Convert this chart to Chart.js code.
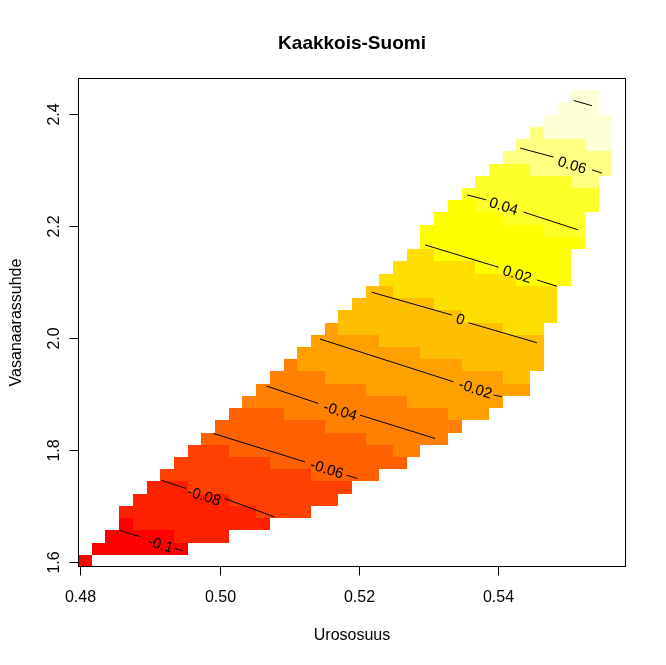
<!DOCTYPE html>
<html>
<head>
<meta charset="utf-8">
<script src="https://cdn.jsdelivr.net/npm/chart.js@4.4.1/dist/chart.umd.min.js"></script>
<style>
  html, body { margin: 0; padding: 0; background: #ffffff; }
  canvas { display: block; }
</style>
</head>
<body>
<canvas id="chart" width="666" height="665"></canvas>
<script>
// grid centres of the image (Urososuus x Vasanaarassuhde)
const xCenters = [
  0.48064, 0.48261, 0.48458, 0.48654, 0.48851, 0.49047, 0.49244, 0.49441, 0.49637, 0.49834,
  0.50030, 0.50227, 0.50424, 0.50620, 0.50817, 0.51013, 0.51210, 0.51407, 0.51603, 0.51800,
  0.51996, 0.52193, 0.52390, 0.52586, 0.52783, 0.52979, 0.53176, 0.53373, 0.53569, 0.53766,
  0.53962, 0.54159, 0.54356, 0.54552, 0.54749, 0.54945, 0.55142, 0.55339, 0.55535, 0.55732
];
const yCenters = [
  1.60198, 1.62381, 1.64564, 1.66747, 1.68931, 1.71114, 1.73297, 1.75481, 1.77664, 1.79847,
  1.82031, 1.84214, 1.86397, 1.88580, 1.90764, 1.92947, 1.95130, 1.97314, 1.99497, 2.01680,
  2.03863, 2.06047, 2.08230, 2.10413, 2.12597, 2.14780, 2.16963, 2.19146, 2.21330, 2.23513,
  2.25696, 2.27880, 2.30063, 2.32246, 2.34430, 2.36613, 2.38796, 2.40979, 2.43163, 2.45346
];

// heat.colors(12)
const heatColors = [
  "#FF0000", "#FF2000", "#FF4000", "#FF6000", "#FF8000", "#FF9F00",
  "#FFBF00", "#FFDF00", "#FFFF00", "#FFFF2A", "#FFFF80", "#FFFFD5"
];

// first filled column of each row (row 0 = bottom)
const rowStart = [
  0, 1, 2, 3, 3, 4, 5, 6, 7, 8,
  9, 10, 11, 12, 13, 14, 15, 16, 17, 18,
  19, 20, 21, 22, 23, 24, 25, 25, 26, 27,
  28, 29, 30, 31, 32, 33, 34, 35, 36, 0
];

// colour level runs along each row: [level, number of cells]
const rowRuns = [
  [[0, 1]],
  [[0, 7]],
  [[0, 5], [1, 4]],
  [[0, 1], [1, 10]],
  [[1, 10], [2, 4]],
  [[1, 7], [2, 8]],
  [[1, 3], [2, 12]],
  [[2, 11], [3, 5]],
  [[2, 7], [3, 10]],
  [[2, 3], [3, 12], [4, 2]],
  [[3, 12], [4, 6]],
  [[3, 8], [4, 10]],
  [[3, 4], [4, 12], [5, 3]],
  [[4, 12], [5, 7]],
  [[4, 8], [5, 12]],
  [[4, 4], [5, 13], [6, 2]],
  [[4, 1], [5, 12], [6, 6]],
  [[5, 9], [6, 9]],
  [[5, 5], [6, 12]],
  [[5, 1], [6, 12], [7, 3]],
  [[6, 9], [7, 7]],
  [[6, 6], [7, 9]],
  [[6, 2], [7, 12]],
  [[7, 10], [8, 4]],
  [[7, 6], [8, 7]],
  [[7, 2], [8, 10]],
  [[8, 12]],
  [[8, 9], [9, 3]],
  [[8, 5], [9, 6]],
  [[8, 2], [9, 9]],
  [[9, 10]],
  [[9, 7], [10, 2]],
  [[9, 3], [10, 6]],
  [[10, 8]],
  [[10, 5], [11, 2]],
  [[10, 1], [11, 5]],
  [[11, 5]],
  [[11, 3]],
  [[11, 2]],
  []
];

const xTicks = [0.48, 0.50, 0.52, 0.54];
const yTicks = [1.6, 1.8, 2.0, 2.2, 2.4];
const xTickLabels = ["0.48", "0.50", "0.52", "0.54"];
const yTickLabels = ["1.6", "1.8", "2.0", "2.2", "2.4"];

// contour lines: pieces on either side of the label
const contourLevels = ["-0.1", "-0.08", "-0.06", "-0.04", "-0.02", "0", "0.02", "0.04", "0.06", "0.08"];
const contourPaths = [
  [[[0.48555, 1.65668], [0.48863, 1.64470]], [[0.49348, 1.62450], [0.49470, 1.62003]]],
  [[[0.49159, 1.74609], [0.49518, 1.73125]], [[0.50069, 1.71337], [0.50788, 1.68047]]],
  [[[0.49906, 1.82959], [0.51223, 1.77881]], [[0.51822, 1.75503], [0.51975, 1.74913]]],
  [[[0.50673, 1.91417], [0.51414, 1.88324]], [[0.52013, 1.86232], [0.53091, 1.82065]]],
  [[[0.51439, 1.99821], [0.53354, 1.92186]], [[0.53929, 1.89808], [0.54049, 1.89504]]],
  [[[0.52182, 2.08172], [0.53331, 2.04113]], [[0.53569, 2.02736], [0.54552, 1.99160]]],
  [[[0.52947, 2.16629], [0.54001, 2.12642]], [[0.54552, 2.10371], [0.54840, 2.09245]]],
  [[[0.53547, 2.25570], [0.53824, 2.24676]], [[0.54360, 2.22495], [0.55146, 2.19312]]],
  [[[0.54312, 2.33921], [0.54791, 2.32311]], [[0.55342, 2.30041], [0.55486, 2.29450]]],
  [[[0.55078, 2.42432], [0.55342, 2.41484]]]
];
const labelPoints = [
  [0.49147, 1.62986], [0.49772, 1.71659], [0.51535, 1.76486], [0.51726, 1.86822],
  [0.53666, 1.90791], [0.53450, 2.03219], [0.54265, 2.11265], [0.54072, 2.23424],
  [0.55055, 2.30756], null
];

const titleText = "Kaakkois-Suomi";
const xTitle = "Urososuus";
const yTitle = "Vasanaarassuhde";

function cellEdges(centers) {
  const edges = [centers[0] - (centers[1] - centers[0]) / 2];
  for (let i = 1; i < centers.length; i++) edges.push((centers[i - 1] + centers[i]) / 2);
  const n = centers.length;
  edges.push(centers[n - 1] + (centers[n - 1] - centers[n - 2]) / 2);
  return edges;
}

const xEdges = cellEdges(xCenters);
const yEdges = cellEdges(yCenters);
const FONT = '"Liberation Sans", Arial, Helvetica, sans-serif';

const heatmapPlugin = {
  id: "heatmap",
  beforeDatasetsDraw(chart) {
    const { ctx, chartArea, scales: { x, y } } = chart;
    ctx.save();
    ctx.beginPath();
    ctx.rect(chartArea.left, chartArea.top, chartArea.right - chartArea.left, chartArea.bottom - chartArea.top);
    ctx.clip();
    rowRuns.forEach((runs, r) => {
      let c = rowStart[r];
      const top = Math.round(y.getPixelForValue(yEdges[r + 1]));
      const bottom = Math.round(y.getPixelForValue(yEdges[r]));
      runs.forEach(([level, count]) => {
        for (let i = 0; i < count; i++, c++) {
          const left = Math.round(x.getPixelForValue(xEdges[c]));
          const right = Math.round(x.getPixelForValue(xEdges[c + 1]));
          ctx.fillStyle = heatColors[level];
          ctx.fillRect(left, top, right - left, bottom - top);
        }
      });
    });
    ctx.restore();
  }
};

const framePlugin = {
  id: "frame",
  afterDatasetsDraw(chart) {
    const { ctx, scales: { x, y } } = chart;
    // contour labels
    ctx.save();
    ctx.fillStyle = "#000000";
    ctx.font = "15px " + FONT;
    ctx.textAlign = "center";
    ctx.textBaseline = "middle";
    labelPoints.forEach((pt, i) => {
      if (!pt) return;
      const path = contourPaths[i];
      const first = path[0][0];
      const lastSeg = path[path.length - 1];
      const last = lastSeg[lastSeg.length - 1];
      const angle = Math.atan2(
        y.getPixelForValue(last[1]) - y.getPixelForValue(first[1]),
        x.getPixelForValue(last[0]) - x.getPixelForValue(first[0])
      );
      ctx.save();
      ctx.translate(x.getPixelForValue(pt[0]), y.getPixelForValue(pt[1]));
      ctx.rotate(angle);
      ctx.fillText(contourLevels[i], 0, 0);
      ctx.restore();
    });
    ctx.restore();
  },
  afterDraw(chart) {
    const { ctx, chartArea, scales: { x, y } } = chart;
    const left = Math.round(chartArea.left) + 0.5;
    const right = Math.round(chartArea.right) - 0.5;
    const top = Math.round(chartArea.top) + 0.5;
    const bottom = Math.round(chartArea.bottom) - 0.5;
    ctx.save();
    ctx.strokeStyle = "#000000";
    ctx.lineWidth = 1;
    ctx.strokeRect(left, top, right - left, bottom - top);

    ctx.fillStyle = "#000000";
    ctx.font = "16px " + FONT;
    ctx.textAlign = "center";
    ctx.textBaseline = "alphabetic";

    xTicks.forEach((v, i) => {
      const px = Math.round(x.getPixelForValue(v)) + 0.5;
      ctx.beginPath();
      ctx.moveTo(px, bottom);
      ctx.lineTo(px, bottom + 9);
      ctx.stroke();
      ctx.fillText(xTickLabels[i], px, bottom + 35);
    });

    yTicks.forEach((v, i) => {
      const py = Math.round(y.getPixelForValue(v)) + 0.5;
      ctx.beginPath();
      ctx.moveTo(left, py);
      ctx.lineTo(left - 9, py);
      ctx.stroke();
      ctx.save();
      ctx.translate(left - 20, py);
      ctx.rotate(-Math.PI / 2);
      ctx.fillText(yTickLabels[i], 0, 0);
      ctx.restore();
    });

    const midX = (chartArea.left + chartArea.right) / 2;
    const midY = (chartArea.top + chartArea.bottom) / 2;
    ctx.fillText(xTitle, midX, bottom + 73);
    ctx.save();
    ctx.translate(left - 58, midY);
    ctx.rotate(-Math.PI / 2);
    ctx.fillText(yTitle, 0, 0);
    ctx.restore();

    ctx.font = "bold 19px " + FONT;
    ctx.fillText(titleText, midX, 49);
    ctx.restore();
  }
};

const datasets = [];
contourPaths.forEach((path, i) => {
  path.forEach((seg) => {
    datasets.push({
      label: contourLevels[i],
      data: seg.map(([px, py]) => ({ x: px, y: py })),
      showLine: true,
      borderColor: "#000000",
      borderWidth: 1,
      pointRadius: 0,
      fill: false,
      tension: 0
    });
  });
});

new Chart(document.getElementById("chart").getContext("2d"), {
  type: "scatter",
  data: { datasets },
  options: {
    responsive: false,
    animation: false,
    events: [],
    layout: { padding: { left: 78, right: 40, top: 78, bottom: 98 } },
    plugins: {
      legend: { display: false },
      tooltip: { enabled: false },
      title: { display: false }
    },
    scales: {
      x: { type: "linear", min: xEdges[0], max: xEdges[xEdges.length - 1], display: false },
      y: { type: "linear", min: yEdges[0], max: yEdges[yEdges.length - 1], display: false }
    }
  },
  plugins: [heatmapPlugin, framePlugin]
});
</script>
</body>
</html>
